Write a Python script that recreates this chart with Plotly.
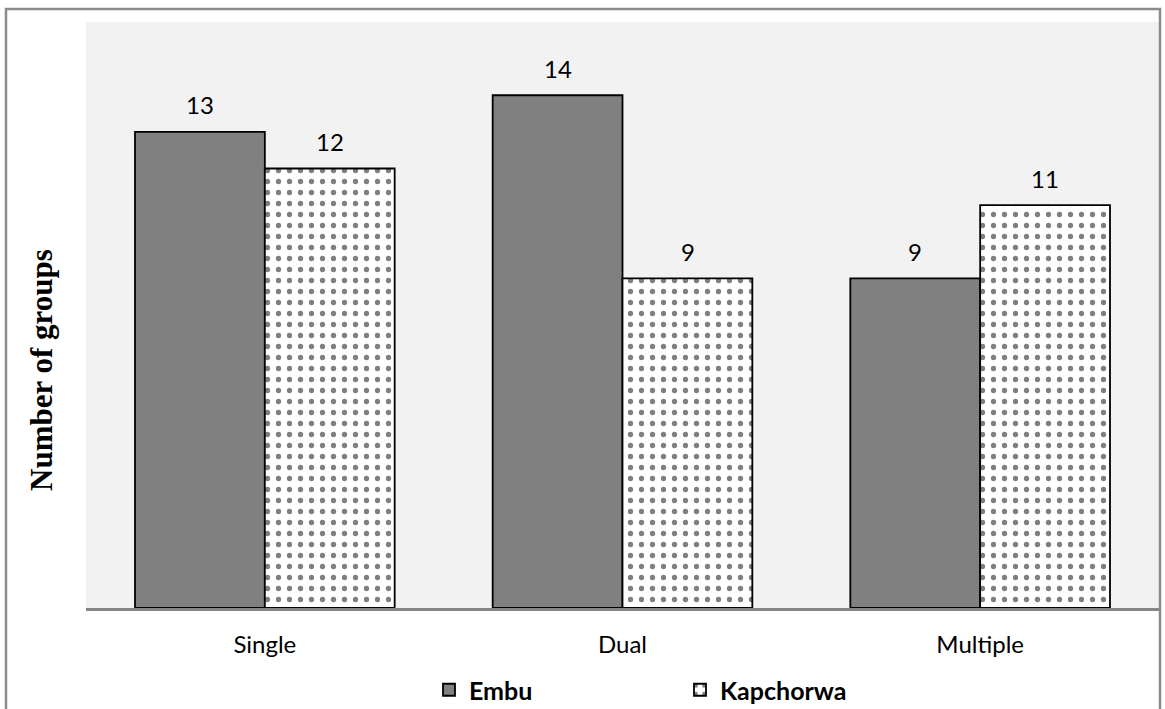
import plotly.graph_objects as go

# Number of groups by membership type, per district
categories = ["Single", "Dual", "Multiple"]
embu = [13, 14, 9]
kapchorwa = [12, 9, 11]
series_names = ["Embu", "Kapchorwa"]

W, H = 1165, 709
ML, MR, MT, MB = 86, 6, 22, 101
PW, PH = W - ML - MR, H - MT - MB

SANS = "Lato, Open Sans, sans-serif"

fig = go.Figure()
fig.add_trace(go.Bar(
    name=f"<b>{series_names[0]}</b>", x=categories, y=embu,
    marker=dict(color="#808080", line=dict(color="#000000", width=1.8)),
))
fig.add_trace(go.Bar(
    name=f"<b>{series_names[1]}</b>", x=categories, y=kapchorwa,
    marker=dict(color="#ffffff", line=dict(color="#000000", width=1.8),
                pattern=dict(shape=".", fgcolor="#000000", bgcolor="#ffffff",
                             size=11, solidity=0.18)),
))

# value labels above each bar
label_font = dict(family=SANS, size=24, color="#000000")
for vals, shift in ((embu, -65), (kapchorwa, 65)):
    for c, v in zip(categories, vals):
        fig.add_annotation(x=c, y=v, text=str(v), showarrow=False,
                           xshift=shift, yshift=27, font=label_font,
                           xref="x", yref="y")

# axis title
fig.add_annotation(text="<b>Number of groups</b>", textangle=-90, showarrow=False,
                   xref="paper", yref="paper",
                   x=(41 - ML) / PW, y=(MT + PH - 370) / PH,
                   xanchor="center", yanchor="middle",
                   font=dict(family="Liberation Serif, Times New Roman, serif",
                             size=31, color="#000000"))

# outer chart border
fig.add_shape(type="rect", xref="paper", yref="paper",
              x0=(6 - ML) / PW, x1=(1160 - ML) / PW,
              y0=(MT + PH - 720) / PH, y1=(MT + PH - 9) / PH,
              line=dict(color="#8c8c8c", width=2.5), fillcolor="rgba(0,0,0,0)",
              layer="below")

fig.update_layout(
    width=W, height=H,
    margin=dict(l=ML, r=MR, t=MT, b=MB, autoexpand=False),
    paper_bgcolor="#ffffff",
    plot_bgcolor="#f2f2f2",
    barmode="group",
    bargap=0.274,
    bargroupgap=0,
    showlegend=True,
    legend=dict(orientation="h", x=(429 - ML) / PW, xanchor="left",
                y=(MT + PH - 690) / PH, yanchor="middle",
                entrywidth=206, entrywidthmode="pixels",
                font=dict(family=SANS, size=25, color="#000000"),
                bgcolor="rgba(0,0,0,0)"),
    xaxis=dict(showline=True, linecolor="#868686", linewidth=2.5, ticks="",
               showgrid=False, ticklabelstandoff=13,
               tickfont=dict(family=SANS, size=24, color="#000000")),
    yaxis=dict(range=[0, 16], showgrid=False, showticklabels=False, zeroline=False,
               showline=False, ticks=""),
)

fig.write_html("out.html")
